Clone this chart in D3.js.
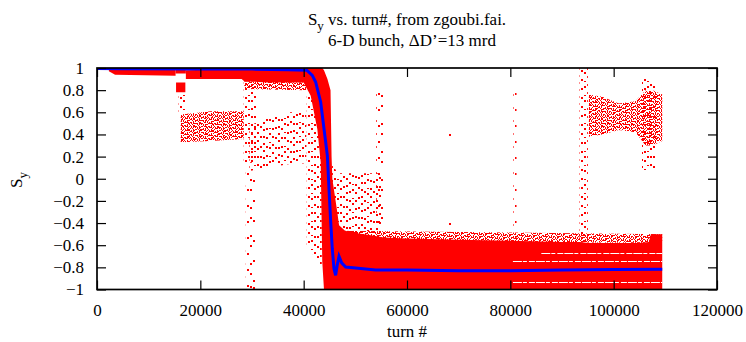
<!DOCTYPE html>
<html><head><meta charset="utf-8">
<script src="https://cdn.jsdelivr.net/npm/d3@7"></script>
<style>
body{margin:0;background:#fff;}
svg text{font-family:"Liberation Serif",serif !important;}
</style></head>
<body><svg id="c" width="746" height="342"></svg>
<script>
// ---------- data ----------
const xTicks = [0, 20000, 40000, 60000, 80000, 100000, 120000];
const yTicks = [-1, -0.8, -0.6, -0.4, -0.2, 0, 0.2, 0.4, 0.6, 0.8, 1];

// blue: average S_y vs turn
const blueTurn = [0, 5000, 20000, 30000, 37000, 40600, 41670, 42320, 43290, 43935, 44580, 44900, 45230, 45540, 45870, 46190, 46500, 46840, 47350, 48130, 50060, 53930, 60000, 70000, 80000, 90000, 100000, 109400];
const blueSy   = [0.995, 0.993, 0.99, 0.99, 0.985, 0.98, 0.934, 0.874, 0.693, 0.452, 0.212, -0.09, -0.39, -0.632, -0.812, -0.872, -0.78, -0.70, -0.76, -0.797, -0.806, -0.824, -0.825, -0.83, -0.83, -0.825, -0.82, -0.818];

// red particles, dense envelopes: [turn, low, high]
const redTopEarly = [[2300,0.97,1.0],[3500,0.94,1.0],[15200,0.93,1.0]];
const redBlob     = [[15300,0.78,0.87],[17100,0.78,0.87]];
const redBlobTop  = [[15200,0.95,1.0],[17200,0.95,1.0]];
const redMain = [[17200,0.90,0.98],[28000,0.90,0.99],[28500,0.88,1.0],[33000,0.87,1.0],[37000,0.87,1.0],[40000,0.87,1.0],
  [41360,0.75,1.0],[42640,0.45,1.0],[43300,0.15,1.0],[43600,-0.75,1.0],[43930,-1.0,0.98],[44600,-1.0,0.9],[45200,-1.0,0.8],
  [45400,-1.0,0.2],[45550,-1.0,0.0],[46500,-1.0,-0.3],[46850,-1.0,-0.42],[48000,-1.0,-0.47],[50000,-1.0,-0.49],[53000,-1.0,-0.51],
  [55500,-1.0,-0.53],[60000,-1.0,-0.54],[70000,-1.0,-0.55],[80000,-1.0,-0.56],[90000,-1.0,-0.57],[93500,-1.0,-0.57],[95000,-1.0,-0.58],
  [105000,-1.0,-0.58],[106800,-1.0,-0.57],[107200,-1.0,-0.5],[109400,-1.0,-0.5]];
// white gaps inside the bottom band: [turnFrom, turnTo, Sy]
const redGaps = [[80500,109400,-0.74],[80500,109400,-0.93],[86000,109400,-0.67]];

// red particles, speckled regions: [turn, low, high]
const redMed = [
  [[16200,0.33,0.58],[22000,0.34,0.61],[28400,0.36,0.61]],
  [[95200,0.38,0.76],[97800,0.40,0.74],[101000,0.44,0.68],[104200,0.42,0.70],[106200,0.30,0.80],[107500,0.30,0.80],[109400,0.34,0.76]],
  [[46000,-0.56,-0.47],[109400,-0.58,-0.50]],
  [[28500,0.81,0.88],[40500,0.80,0.87]]
];
const redLight = [
  [[15800,0.60,0.80],[17200,0.60,0.80]],
  [[28400,0.15,0.88],[30800,0.15,0.88]],
  [[29500,0.07,0.48],[33000,0.10,0.55],[37000,0.13,0.60],[40500,0.14,0.60]],
  [[40600,-0.60,0.75],[43500,-0.80,0.70]],
  [[45500,-0.50,0.15],[46500,-0.50,0.05],[55000,-0.50,0.05]],
  [[93400,-0.57,1.0],[95000,-0.57,1.0]],
  [[105500,0.08,0.90],[108000,0.08,0.90]]
];
const redVLight = [
  [[28800,-1.0,0.15],[30600,-1.0,0.15]],
  [[54050,-0.40,0.78],[55550,-0.40,0.78]],
  [[80600,-0.57,0.78],[81200,-0.57,0.78]]
];
const redOutliers = [[68100,0.40],[68100,-0.40],[29600,-0.97],[30200,-0.98]];

// ---------- drawing ----------
const FONT = "Liberation Serif";
const svg = d3.select("#c");
const L = 97, R = 717, T = 68, B = 289.5;
const x = d3.scaleLinear().domain([0,120000]).range([L,R]);
const y = d3.scaleLinear().domain([-1,1]).range([B,T]);
const RED = "#ff0000";

const defs = svg.append("defs");
defs.append("clipPath").attr("id","clip").append("rect")
  .attr("x",L).attr("y",T).attr("width",R-L).attr("height",B-T);

const g = svg.append("g").attr("clip-path","url(#clip)");
const area = d3.area().x(d=>x(d[0])).y0(d=>y(d[1])).y1(d=>y(d[2]));

// speckle texture: vertical dashed red lines clipped to each region
let clipN = 0;
function speckle(region, step, width, dashes){
  const id = "sp" + (clipN++);
  defs.append("clipPath").attr("id",id).append("path").attr("d",area(region));
  const sg = g.append("g").attr("clip-path",`url(#${id})`);
  const x0 = Math.floor(x(region[0][0])) - 1, x1 = Math.ceil(x(region[region.length-1][0]));
  const cols = d3.range(x0, x1 + 1, step);
  sg.selectAll("line").data(cols).join("line")
    .attr("x1",d=>d+width/2).attr("x2",d=>d+width/2).attr("y1",T).attr("y2",B)
    .attr("stroke",RED).attr("stroke-width",width)
    .attr("stroke-dasharray",(d,i)=>dashes[i % dashes.length])
    .attr("stroke-dashoffset",(d,i)=>(i*7) % 13);
}
redVLight.forEach(a => speckle(a, 3, 2, ["2,11","2,14","2,8,2,16","2,18"]));
redLight.forEach(a => speckle(a, 3, 2, ["2,5","2,7","1,4,2,7","2,6","2,8"]));
redMed.forEach(a => speckle(a, 1, 1, ["2,2","1,3","3,1","1,1,2,3","2,1,1,2","1,2"]));

[redTopEarly, redBlob, redBlobTop, redMain].forEach(a =>
  g.append("path").attr("d",area(a)).attr("fill",RED));
redGaps.forEach(d => g.append("line")
  .attr("x1",x(d[0])).attr("x2",x(d[1])).attr("y1",Math.round(y(d[2]))+0.5).attr("y2",Math.round(y(d[2]))+0.5)
  .attr("stroke","#fff").attr("stroke-width",1).attr("stroke-dasharray","9,1,4,2,6,1"));
redOutliers.forEach(d => g.append("rect").attr("x",Math.round(x(d[0]))).attr("y",Math.round(y(d[1]))).attr("width",2).attr("height",2).attr("fill",RED));

const line = d3.line().x((d,i)=>x(blueTurn[i])).y((d,i)=>y(blueSy[i]));
g.append("path").attr("d",line(blueTurn)).attr("fill","none")
  .attr("stroke","#0000ff").attr("stroke-width",3);

// axes
const fs = 17;
function styleAxis(sel){
  sel.attr("font-family",FONT);
  sel.select(".domain").remove();
  sel.selectAll(".tick line").attr("stroke","#000").attr("stroke-width",1.2);
  sel.selectAll("text").attr("font-size",fs).attr("fill","#000").attr("font-family",FONT);
}
const fmtY = d => d3.format("")(Math.round(d*10)/10);
svg.append("g").attr("transform",`translate(0,${B})`)
  .call(d3.axisBottom(x).tickValues(xTicks).tickSizeInner(-9).tickSizeOuter(0).tickPadding(14).tickFormat(d3.format("d")))
  .call(styleAxis);
svg.append("g").attr("transform",`translate(0,${T})`)
  .call(d3.axisTop(x).tickValues(xTicks).tickSizeInner(-9).tickSizeOuter(0).tickFormat(""))
  .call(styleAxis);
svg.append("g").attr("transform",`translate(${L},0)`)
  .call(d3.axisLeft(y).tickValues(yTicks).tickSizeInner(-9).tickSizeOuter(0).tickPadding(13).tickFormat(fmtY))
  .call(styleAxis);
svg.append("g").attr("transform",`translate(${R},0)`)
  .call(d3.axisRight(y).tickValues(yTicks).tickSizeInner(-9).tickSizeOuter(0).tickFormat(""))
  .call(styleAxis);
svg.append("rect").attr("x",L).attr("y",T).attr("width",R-L).attr("height",B-T)
  .attr("fill","none").attr("stroke","#000").attr("stroke-width",1.7);

// titles
function txt(xp, yp){
  return svg.append("text").attr("x",xp).attr("y",yp).attr("text-anchor","middle")
    .attr("font-family",FONT).attr("font-size",fs).attr("fill","#000");
}
const t1 = txt((L+R)/2, 25);
t1.append("tspan").text("S");
t1.append("tspan").attr("dy",5).attr("font-size",13).text("y");
t1.append("tspan").attr("dy",-5).text(" vs. turn#, from zgoubi.fai.");
txt((L+R)/2+5, 46).text("6-D bunch, \u0394D\u2019=13 mrd");
txt((L+R)/2, 337).text("turn #");
const yl = svg.append("text").attr("transform","translate(22,180) rotate(-90)").attr("text-anchor","middle")
  .attr("font-family",FONT).attr("font-size",fs).attr("fill","#000");
yl.append("tspan").text("S");
yl.append("tspan").attr("dy",5).attr("font-size",13).text("y");
</script></body></html>
